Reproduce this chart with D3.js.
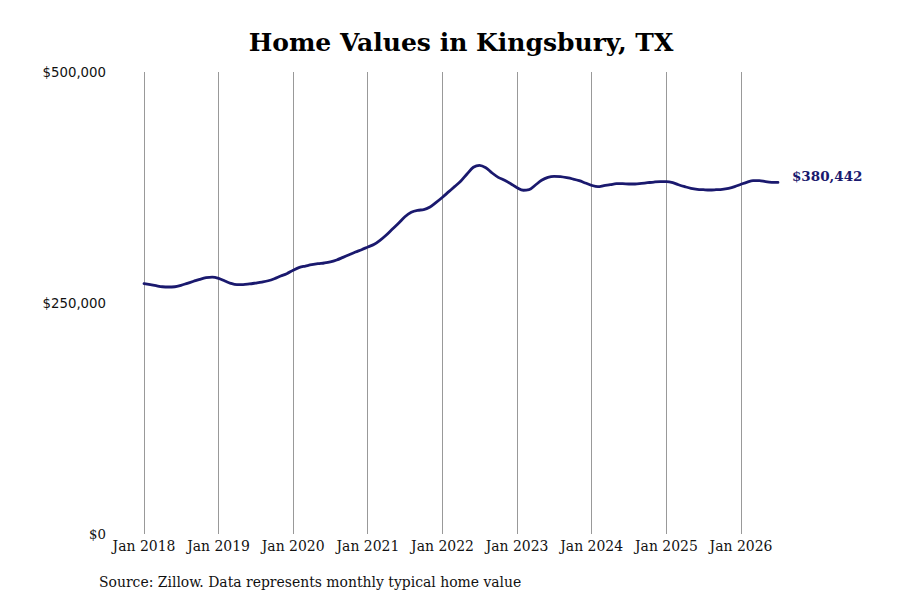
<!DOCTYPE html>
<html>
<head>
<meta charset="utf-8">
<script src="https://cdn.jsdelivr.net/npm/d3@7/dist/d3.min.js"></script>
<style>
  html, body { margin: 0; padding: 0; background: #ffffff; }
  svg { display: block; }
</style>
</head>
<body>
<svg id="chart" width="900" height="600"></svg>
<script>
// ---- Data ----
const startMonth = "2018-01";
const homeValues = [
  270900, 269800, 268700, 267600, 267300, 267600, 269100, 271300, 273500, 275600, 277400, 278100,
  276700, 273800, 271300, 269800, 269800, 270600, 271600, 272700, 274100, 276300, 279200, 281700,
  285500, 288600, 290000, 291500, 292600, 293300, 294400, 296500, 299400, 302300, 305200, 307700,
  310600, 313500, 317800, 323600, 330100, 336600, 343400, 348200, 350300, 351000, 353900, 358900,
  364500, 370500, 375900, 382000, 389600, 396900, 399000, 396400, 390700, 386000, 382800, 379100,
  374800, 372000, 372600, 377700, 382800, 386000, 387100, 386700, 385600, 384200, 382400, 379900,
  377300, 375900, 377000, 378000, 379100, 379100, 378800, 378800, 379500, 380200, 380900, 381300,
  381300, 380200, 378000, 375900, 374100, 373000, 372600, 372300, 372600, 373000, 374100, 375900,
  378500, 380900, 382400, 382400, 381300, 380600, 380442
];
const yTickValues = [0, 250000, 500000];
const xTickYears = [2018, 2019, 2020, 2021, 2022, 2023, 2024, 2025, 2026];
const titleText = "Home Values in Kingsbury, TX";
const sourceText = "Source: Zillow. Data represents monthly typical home value";

// ---- Build series ----
const parseMonth = d3.timeParse("%Y-%m");
const start = parseMonth(startMonth);
const series = homeValues.map((v, i) => ({ date: d3.timeMonth.offset(start, i), value: v }));

const svg = d3.select("#chart");
const lineColor = "#1a196e";

const x = d3.scaleTime()
  .domain([new Date(2018, 0, 1), new Date(2026, 0, 1)])
  .range([144, 741]);
const y = d3.scaleLinear()
  .domain([0, 500000])
  .range([534, 72]);

// Title
svg.append("text")
  .attr("x", 461)
  .attr("y", 51)
  .attr("text-anchor", "middle")
  .style("font-family", "'DejaVu Serif', serif")
  .style("font-weight", "bold")
  .style("font-size", "25px")
  .style("fill", "#000")
  .text(titleText);

// Vertical gridlines
const xTicks = xTickYears.map(yr => new Date(yr, 0, 1));
svg.append("g").selectAll("line")
  .data(xTicks)
  .join("line")
  .attr("x1", d => x(d)).attr("x2", d => x(d))
  .attr("y1", y(500000)).attr("y2", y(0))
  .attr("stroke", "#999999")
  .attr("stroke-width", 1)
  .attr("shape-rendering", "crispEdges");

// X tick labels
const fmtX = d3.timeFormat("%b %Y");
svg.append("g").selectAll("text")
  .data(xTicks)
  .join("text")
  .attr("x", d => x(d))
  .attr("y", 551)
  .attr("text-anchor", "middle")
  .style("font-family", "'DejaVu Serif Condensed', 'DejaVu Serif', serif")
  .style("font-size", "15.5px")
  .style("fill", "#111")
  .text(d => fmtX(d));

// Y tick labels
const fmtY = v => "$" + d3.format(",")(v);
svg.append("g").selectAll("text")
  .data(yTickValues)
  .join("text")
  .attr("x", 106)
  .attr("y", d => y(d))
  .attr("dy", "0.35em")
  .attr("text-anchor", "end")
  .style("font-family", d => d === 0 ? "'DejaVu Serif', serif" : "'DejaVu Sans', sans-serif")
  .style("font-size", "13.3px")
  .style("fill", "#111")
  .text(d => fmtY(d));

// Line
const line = d3.line()
  .x(d => x(d.date))
  .y(d => y(d.value))
  .curve(d3.curveMonotoneX);

svg.append("path")
  .datum(series)
  .attr("d", line)
  .attr("fill", "none")
  .attr("stroke", lineColor)
  .attr("stroke-width", 2.8)
  .attr("stroke-linejoin", "round")
  .attr("stroke-linecap", "round");

// End label
const last = series[series.length - 1];
svg.append("text")
  .attr("x", x(last.date) + 14)
  .attr("y", y(last.value) - 6)
  .attr("dy", "0.35em")
  .style("font-family", "'DejaVu Serif', serif")
  .style("font-weight", "bold")
  .style("font-size", "13.5px")
  .style("fill", lineColor)
  .text(fmtY(last.value));

// Source
svg.append("text")
  .attr("x", 99)
  .attr("y", 587)
  .style("font-family", "'DejaVu Serif Condensed', 'DejaVu Serif', serif")
  .style("font-size", "15.5px")
  .style("fill", "#111")
  .text(sourceText);
</script>
</body>
</html>
